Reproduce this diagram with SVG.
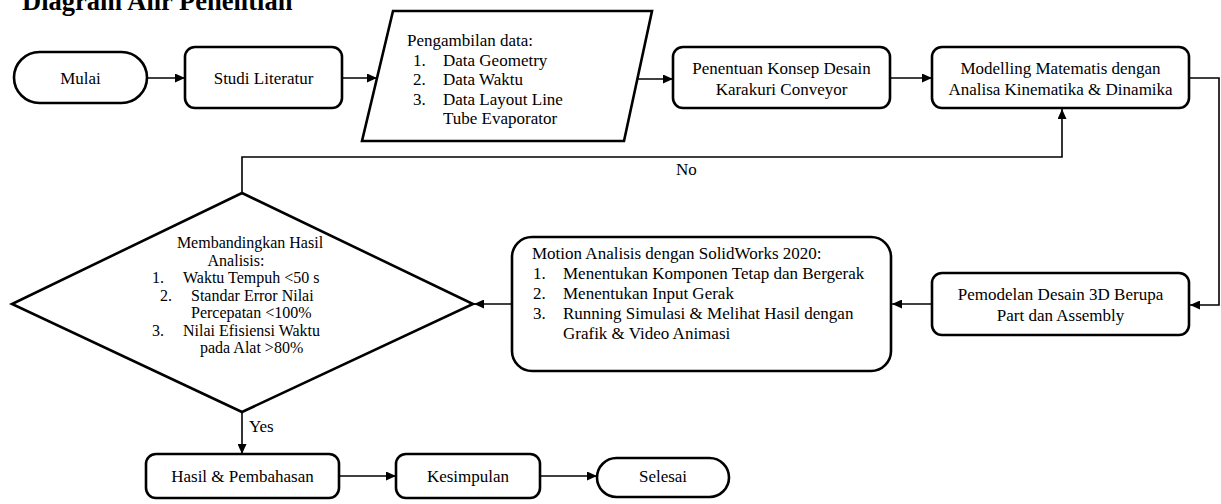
<svg xmlns="http://www.w3.org/2000/svg" width="1221" height="504" viewBox="0 0 1221 504">
<style>
.box{fill:#fff;stroke:#000;stroke-width:2.6}
.c{fill:none;stroke:#000;stroke-width:1.6}
.t{font-family:"Liberation Serif","Times New Roman",serif;font-size:17px;fill:#000}
.m{text-anchor:middle}
.d{font-family:"Liberation Serif","Times New Roman",serif;font-size:16px;fill:#000}
.title{font-family:"Liberation Serif","Times New Roman",serif;font-size:26.5px;font-weight:bold;fill:#000}
</style>
<defs>
<marker id="ah" markerUnits="userSpaceOnUse" markerWidth="11" markerHeight="9" refX="10" refY="4.5" orient="auto">
<path d="M0,0 L10,4.5 L0,9 z" fill="#000"/>
</marker>
</defs>
<rect width="1221" height="504" fill="#fff"/>
<text class="title" x="22" y="10">Diagram Alir Penelitian</text>

<g id="connectors">
<path class="c" d="M147,78 H185" marker-end="url(#ah)"/>
<path class="c" d="M342,78 H377" marker-end="url(#ah)"/>
<path class="c" d="M636,79 H673" marker-end="url(#ah)"/>
<path class="c" d="M890,78 H932" marker-end="url(#ah)"/>
<path class="c" d="M1189,78 H1219 V305 H1190" marker-end="url(#ah)"/>
<path class="c" d="M932,304 H892" marker-end="url(#ah)"/>
<path class="c" d="M512,304 H474" marker-end="url(#ah)"/>
<path class="c" d="M242,193 V157 H1062 V109" marker-end="url(#ah)"/>
<path class="c" d="M242,412 V454" marker-end="url(#ah)"/>
<path class="c" d="M339,476 H396" marker-end="url(#ah)"/>
<path class="c" d="M540,476 H597" marker-end="url(#ah)"/>
<text class="t" x="676" y="175">No</text>
<text class="t" x="249" y="432">Yes</text>
</g>

<g id="mulai">
<rect class="box" x="14" y="52" width="133" height="51" rx="25.5"/>
<text class="t m" x="80.5" y="84">Mulai</text>
</g>

<g id="studi">
<rect class="box" x="185" y="47" width="157" height="61" rx="10"/>
<text class="t m" x="263.5" y="84">Studi Literatur</text>
</g>

<g id="data">
<polygon class="box" points="393,11 652,11 624,141 362,141"/>
<text class="t" x="407" y="46">Pengambilan data:</text>
<text class="t" x="413" y="65.5">1.</text><text class="t" x="443" y="65.5">Data Geometry</text>
<text class="t" x="413" y="85">2.</text><text class="t" x="443" y="85">Data Waktu</text>
<text class="t" x="413" y="104.5">3.</text><text class="t" x="443" y="104.5">Data Layout Line</text>
<text class="t" x="443" y="124">Tube Evaporator</text>
</g>

<g id="konsep">
<rect class="box" x="673" y="47" width="217" height="61" rx="10"/>
<text class="t m" x="781.5" y="74">Penentuan Konsep Desain</text>
<text class="t m" x="781.5" y="95">Karakuri Conveyor</text>
</g>

<g id="modelling">
<rect class="box" x="932" y="47" width="257" height="61" rx="10"/>
<text class="t m" x="1060.5" y="74">Modelling Matematis dengan</text>
<text class="t m" x="1060.5" y="95">Analisa Kinematika &amp; Dinamika</text>
</g>

<g id="pemodelan">
<rect class="box" x="932" y="273" width="257" height="62" rx="10"/>
<text class="t m" x="1060.5" y="300">Pemodelan Desain 3D Berupa</text>
<text class="t m" x="1060.5" y="321">Part dan Assembly</text>
</g>

<g id="motion">
<rect class="box" x="512" y="237" width="379" height="134" rx="20"/>
<text class="t" x="532" y="259">Motion Analisis dengan SolidWorks 2020:</text>
<text class="t" x="533" y="279">1.</text><text class="t" x="563" y="279">Menentukan Komponen Tetap dan Bergerak</text>
<text class="t" x="533" y="299">2.</text><text class="t" x="563" y="299">Menentukan Input Gerak</text>
<text class="t" x="533" y="319">3.</text><text class="t" x="563" y="319">Running Simulasi &amp; Melihat Hasil dengan</text>
<text class="t" x="563" y="339">Grafik &amp; Video Animasi</text>
</g>

<g id="banding">
<polygon class="box" points="242,193 473,304 242,412 12,304"/>
<text class="d m" x="250" y="248">Membandingkan Hasil</text>
<text class="d m" x="236" y="265.5">Analisis:</text>
<text class="d" x="152" y="283">1.</text><text class="d" x="183" y="283">Waktu Tempuh &lt;50 s</text>
<text class="d" x="160" y="300.5">2.</text><text class="d" x="191" y="300.5">Standar Error Nilai</text>
<text class="d" x="191" y="318">Percepatan &lt;100%</text>
<text class="d" x="152" y="335.5">3.</text><text class="d" x="183" y="335.5">Nilai Efisiensi Waktu</text>
<text class="d" x="200" y="353">pada Alat &gt;80%</text>
</g>

<g id="hasil">
<rect class="box" x="146" y="454" width="193" height="44" rx="10"/>
<text class="t m" x="242.5" y="482">Hasil &amp; Pembahasan</text>
</g>

<g id="kesimpulan">
<rect class="box" x="396" y="454" width="144" height="44" rx="10"/>
<text class="t m" x="468" y="482">Kesimpulan</text>
</g>

<g id="selesai">
<rect class="box" x="597" y="458" width="132" height="39" rx="19.5"/>
<text class="t m" x="663" y="482">Selesai</text>
</g>
</svg>
